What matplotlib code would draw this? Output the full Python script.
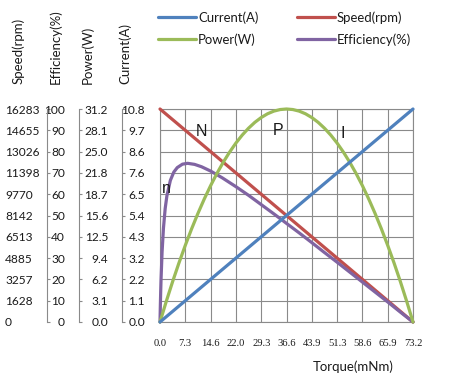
import matplotlib
matplotlib.use("Agg")
import matplotlib.pyplot as plt

# ---------------- data ----------------
torque_ticks = [0.0, 7.32, 14.64, 21.96, 29.28, 36.6, 43.92, 51.24, 58.56, 65.88, 73.2]
torque_tick_labels = ['0.0', '7.3', '14.6', '22.0', '29.3', '36.6', '43.9', '51.3', '58.6', '65.9', '73.2']

speed_tick_labels = ['0', '1628', '3257', '4885', '6513', '8142', '9770', '11398', '13026', '14655', '16283']
eff_tick_labels = ['0', '10', '20', '30', '40', '50', '60', '70', '80', '90', '100']
power_tick_labels = ['0.0', '3.1', '6.2', '9.4', '12.5', '15.6', '18.7', '21.8', '25.0', '28.1', '31.2']
current_tick_labels = ['0.0', '1.1', '2.2', '3.2', '4.3', '5.4', '6.5', '7.6', '8.6', '9.7', '10.8']

speed_max = 16283
eff_max = 100
power_max = 31.2
current_max = 10.8

# linear curves
lin_torque = [0.0, 73.2]
current_vals = [0.0, 10.8]
speed_vals = [16283, 0]

# power curve
power_torque = [0, 1.83, 3.66, 5.49, 7.32, 9.15, 10.98, 12.81, 14.64, 16.47, 18.3, 20.13,
                21.96, 23.79, 25.62, 27.45, 29.28, 31.11, 32.94, 34.77, 36.6, 38.43, 40.26,
                42.09, 43.92, 45.75, 47.58, 49.41, 51.24, 53.07, 54.9, 56.73, 58.56, 60.39,
                62.22, 64.05, 65.88, 67.71, 69.54, 71.37, 73.2]
power_vals = [0, 3.04, 5.93, 8.66, 11.23, 13.65, 15.91, 18.02, 19.97, 21.76, 23.4, 24.88,
              26.21, 27.38, 28.39, 29.25, 29.95, 30.50, 30.89, 31.12, 31.2, 31.12, 30.89,
              30.50, 29.95, 29.25, 28.39, 27.38, 26.21, 24.88, 23.4, 21.76, 19.97, 18.02,
              15.91, 13.65, 11.23, 8.66, 5.93, 3.04, 0]

# efficiency curve
eff_torque = [0, 0.1, 0.2, 0.3, 0.6, 1.0, 1.5, 2.0, 3.0, 4.0, 5.0, 6.5, 8.0, 10, 12, 14.6,
              18, 22, 25.6, 29.3, 33, 36.6, 40.3, 43.9, 47.6, 51.3, 55, 58.6, 62.2, 65.9,
              69.5, 73.2]
eff_vals = [0, 7.7, 14.3, 19.9, 32.8, 44.1, 53.3, 59.3, 66.5, 70.4, 72.5, 74.1, 74.5, 74.0,
            72.9, 70.9, 67.7, 63.5, 59.5, 55.1, 50.7, 46.3, 41.8, 37.3, 32.6, 28.0, 23.3,
            18.7, 14.1, 9.4, 4.7, 0]

# ---------------- style ----------------
C_BLUE = '#4F81BD'
C_RED = '#C0504D'
C_GREEN = '#9BBB59'
C_PURPLE = '#8064A2'
GRID = '#8a8a8a'
TXT = '#1a1a1a'
FONT = 'Lato'
SERIF = 'Liberation Serif'
LW = 2.3

W, H = 450, 381
fig = plt.figure(figsize=(4.5, 3.81), dpi=100)
renderer = fig.canvas.get_renderer()


def fit_size(samples, family):
    """font size so that the samples' total rendered width matches target pixel widths"""
    got, want = 0.0, 0.0
    for s, target in samples:
        t = fig.text(0, 0, s, fontsize=10, family=family)
        got += t.get_window_extent(renderer).width
        want += target
        t.remove()
    return 10 * want / got


TITLE_FS = fit_size([('Speed(rpm)', 69), ('Efficiency(%)', 75), ('Power(W)', 57),
                     ('Current(A)', 60)], FONT)
TICK_FS = fit_size([('16283', 37), ('31.2', 27), ('10.8', 20), ('100', 17), ('9770', 28)], FONT)
XTICK_FS = fit_size([('14.6', 18.3), ('73.2', 18.3)], SERIF)
LEG_FS = fit_size([('Current(A)', 60), ('Speed(rpm)', 67)], FONT)

px0, px1, py0, py1 = 160, 413, 109, 322
ax = fig.add_axes([px0 / W, 1 - py1 / H, (px1 - px0) / W, (py1 - py0) / H])
ax.set_xlim(0, 73.2)
ax.set_ylim(0, 10)
ax.set_xticks(torque_ticks)
ax.set_xticklabels(torque_tick_labels, family=SERIF, fontsize=XTICK_FS, color=TXT)
ax.set_yticks(range(11))
ax.tick_params(axis='x', length=0, pad=12)
ax.tick_params(axis='y', length=0, labelleft=False)
ax.grid(True, color=GRID, linewidth=0.8)
for s in ax.spines.values():
    s.set_color(GRID)
    s.set_linewidth(0.8)


def axis_x(px):
    return (px - px0) / (px1 - px0)


def make_twin(top, labels, spine_px, pad, visible_spine=True, ha='right', tick_len=2.2):
    t = ax.twinx()
    t.set_ylim(0, top)
    for name in ['left', 'top', 'bottom']:
        t.spines[name].set_visible(False)
    t.spines['right'].set_position(('axes', axis_x(spine_px)))
    t.spines['right'].set_color(GRID)
    t.spines['right'].set_linewidth(0.8)
    t.spines['right'].set_visible(visible_spine)
    t.set_yticks([top * k / 10 for k in range(11)])
    t.set_yticklabels(labels, family=FONT, fontsize=TICK_FS, color=TXT, ha=ha)
    t.tick_params(axis='y', direction='out', length=tick_len, width=0.8, color=GRID, pad=pad)
    return t


ax_s = make_twin(speed_max, speed_tick_labels, 5, 0, visible_spine=False, ha='left', tick_len=0)
ax_e = make_twin(eff_max, eff_tick_labels, 47, 10.8)
ax_p = make_twin(power_max, power_tick_labels, 79, 18.7)
ax_c = make_twin(current_max, current_tick_labels, 122, 14.4)

kw = dict(linewidth=LW, solid_capstyle='round', clip_on=False)
l_speed, = ax_s.plot(lin_torque, speed_vals, color=C_RED, label='Speed(rpm)', **kw)
l_power, = ax_p.plot(power_torque, power_vals, color=C_GREEN, label='Power(W)', **kw)
l_cur, = ax_c.plot(lin_torque, current_vals, color=C_BLUE, label='Current(A)', **kw)
l_eff, = ax_e.plot(eff_torque, eff_vals, color=C_PURPLE, label='Efficiency(%)', **kw)

# curve labels
for txt, x, y in [('N', 12.06, 8.93), ('P', 34.1, 9.01), ('I', 52.9, 8.87), ('n', 1.94, 6.29)]:
    ax_c.text(x, y * current_max / 10, txt, family='Liberation Sans', fontsize=11.5,
              color=TXT, ha='center', va='center')

# axis titles
for txt, xc in [('Speed(rpm)', 18), ('Efficiency(%)', 55), ('Power(W)', 87), ('Current(A)', 125)]:
    fig.text(xc / W, 1 - 84 / H, txt, rotation=90, ha='center', va='bottom',
             family=FONT, fontsize=TITLE_FS, color=TXT)

fig.text(353 / W, 1 - 367 / H, 'Torque(mNm)', ha='center', va='center',
         family=FONT, fontsize=TITLE_FS, color=TXT)

leg = fig.legend([l_cur, l_power, l_speed, l_eff],
                 ['Current(A)', 'Power(W)', 'Speed(rpm)', 'Efficiency(%)'],
                 ncol=2, loc='upper left', bbox_to_anchor=(158 / W, 1 - 11 / H),
                 frameon=False, borderpad=0, borderaxespad=0, handlelength=2.9,
                 handletextpad=0.15, columnspacing=2.9, labelspacing=0.75,
                 prop={'family': FONT, 'size': LEG_FS})
for t in leg.get_texts():
    t.set_color(TXT)

fig.savefig('out.png', dpi=100)
